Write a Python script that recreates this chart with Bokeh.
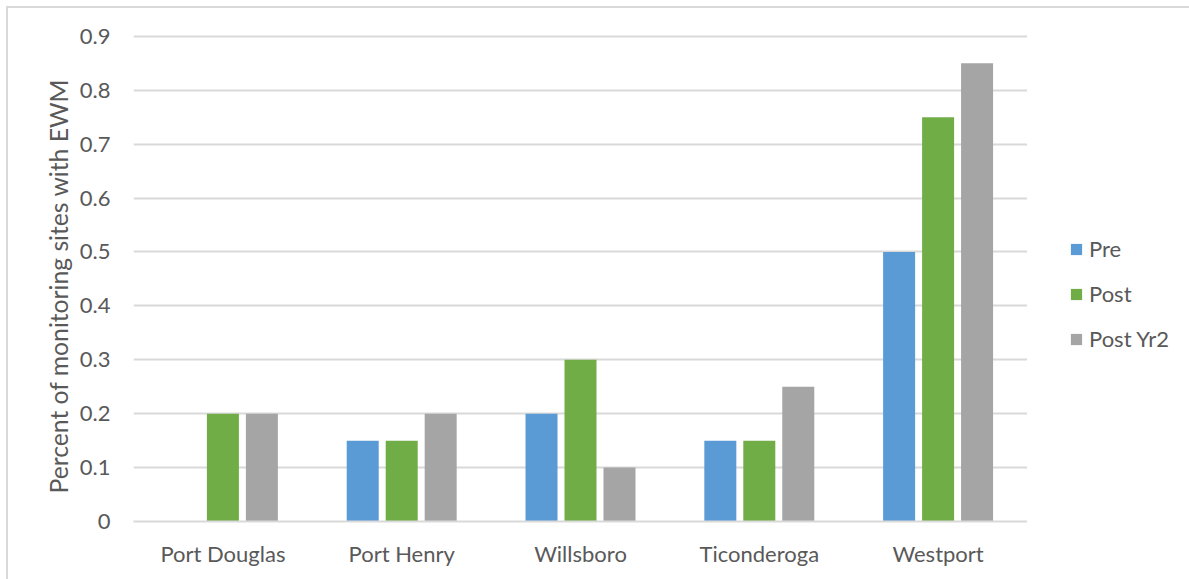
from bokeh.plotting import figure
from bokeh.layouts import row
from bokeh.models import (FactorRange, Range1d, SingleIntervalTicker, Legend,
                          LegendItem, ColumnDataSource, InlineStyleSheet, Title)
from bokeh.transform import dodge
from bokeh.embed import file_html
from bokeh.resources import INLINE

sites = ["Port Douglas", "Port Henry", "Willsboro", "Ticonderoga", "Westport"]
pre = [0.0, 0.15, 0.2, 0.15, 0.5]
post = [0.2, 0.15, 0.3, 0.15, 0.75]
post_yr2 = [0.2, 0.2, 0.1, 0.25, 0.85]
series_names = ["Pre", "Post", "Post Yr2"]
series_cols = ["pre", "post", "post_yr2"]
colors = ["#5B9BD5", "#70AD47", "#A5A5A5"]
y_title = "Percent of monitoring sites with EWM"

FONT = "Lato"
TEXT = "#595959"
GRID = "#D9D9D9"
FS = "22px"

src = ColumnDataSource(dict(site=sites, pre=pre, post=post, post_yr2=post_yr2))

# thin grey frame around the whole chart area
frame_css = InlineStyleSheet(css="""
:host { overflow: hidden; }
:host::after {
  content: ""; position: absolute; left: 6px; top: 6px;
  right: -6px; bottom: -6px; border: 2px solid #D9D9D9;
  pointer-events: none; box-sizing: border-box;
}
""")

p = figure(frame_width=894, frame_height=496, output_backend="svg", toolbar_location=None,
           x_range=FactorRange(factors=sites, range_padding=0),
           y_range=Range1d(0, 0.92),
           min_border_left=133, min_border_right=0,
           min_border_top=25, min_border_bottom=58)
p.outline_line_color = None
p.background_fill_color = "white"
p.border_fill_color = "white"

offsets = [-0.218, 0.0, 0.218]
renderers = []
for col, off, c in zip(series_cols, offsets, colors):
    r = p.vbar(x=dodge("site", off, range=p.x_range), top=col, width=0.179,
               bottom=0, source=src, fill_color=c, line_color=None)
    renderers.append(r)

# axes
p.yaxis.ticker = SingleIntervalTicker(interval=0.1)
p.yaxis.major_label_overrides = {0: "0"}
p.yaxis.axis_line_color = None
p.yaxis.major_tick_line_color = None
p.yaxis.minor_tick_line_color = None
p.yaxis.major_label_text_font = FONT
p.yaxis.major_label_text_font_size = FS
p.yaxis.major_label_text_color = TEXT
p.yaxis.major_label_standoff = 17

p.add_layout(Title(text=y_title, align="left", offset=28, standoff=8,
                   text_font=FONT, text_font_size="24.7px", text_font_style="normal",
                   text_color=TEXT), "left")

p.xaxis.axis_line_color = GRID
p.xaxis.axis_line_width = 2
p.xaxis.major_tick_line_color = None
p.xaxis.minor_tick_line_color = None
p.xaxis.major_label_text_font = FONT
p.xaxis.major_label_text_font_size = FS
p.xaxis.major_label_text_color = TEXT
p.xaxis.major_label_standoff = 12

p.xgrid.grid_line_color = None
p.ygrid.grid_line_color = GRID
p.ygrid.grid_line_width = 2

# legend panel: hidden zero-width bars carry the series colours for the keys
lg = figure(width=162, height=579, output_backend="svg", toolbar_location=None,
            x_range=Range1d(0, 1), y_range=Range1d(0, 1),
            min_border=0, min_border_left=0, min_border_right=0,
            min_border_top=0, min_border_bottom=0)
lg.axis.visible = False
lg.grid.visible = False
lg.outline_line_color = None
lg.border_fill_color = "white"
keys = []
for c in colors:
    k = lg.vbar(x=[0], top=[0], width=0, fill_color=c, line_color=None)
    k.visible = False
    keys.append(k)

legend = Legend(items=[LegendItem(label=n, renderers=[k]) for n, k in zip(series_names, keys)],
                location=(42, 169), orientation="vertical",
                glyph_width=14, glyph_height=14, label_height=20,
                label_text_font=FONT, label_text_font_size=FS,
                label_text_color=TEXT, label_standoff=6, spacing=18,
                inactive_fill_alpha=0,
                border_line_color=None, background_fill_alpha=0, padding=0, margin=0)
lg.add_layout(legend, "center")

layout = row(p, lg, spacing=0, stylesheets=[frame_css])

open("out.html", "w").write(file_html(layout, INLINE))
